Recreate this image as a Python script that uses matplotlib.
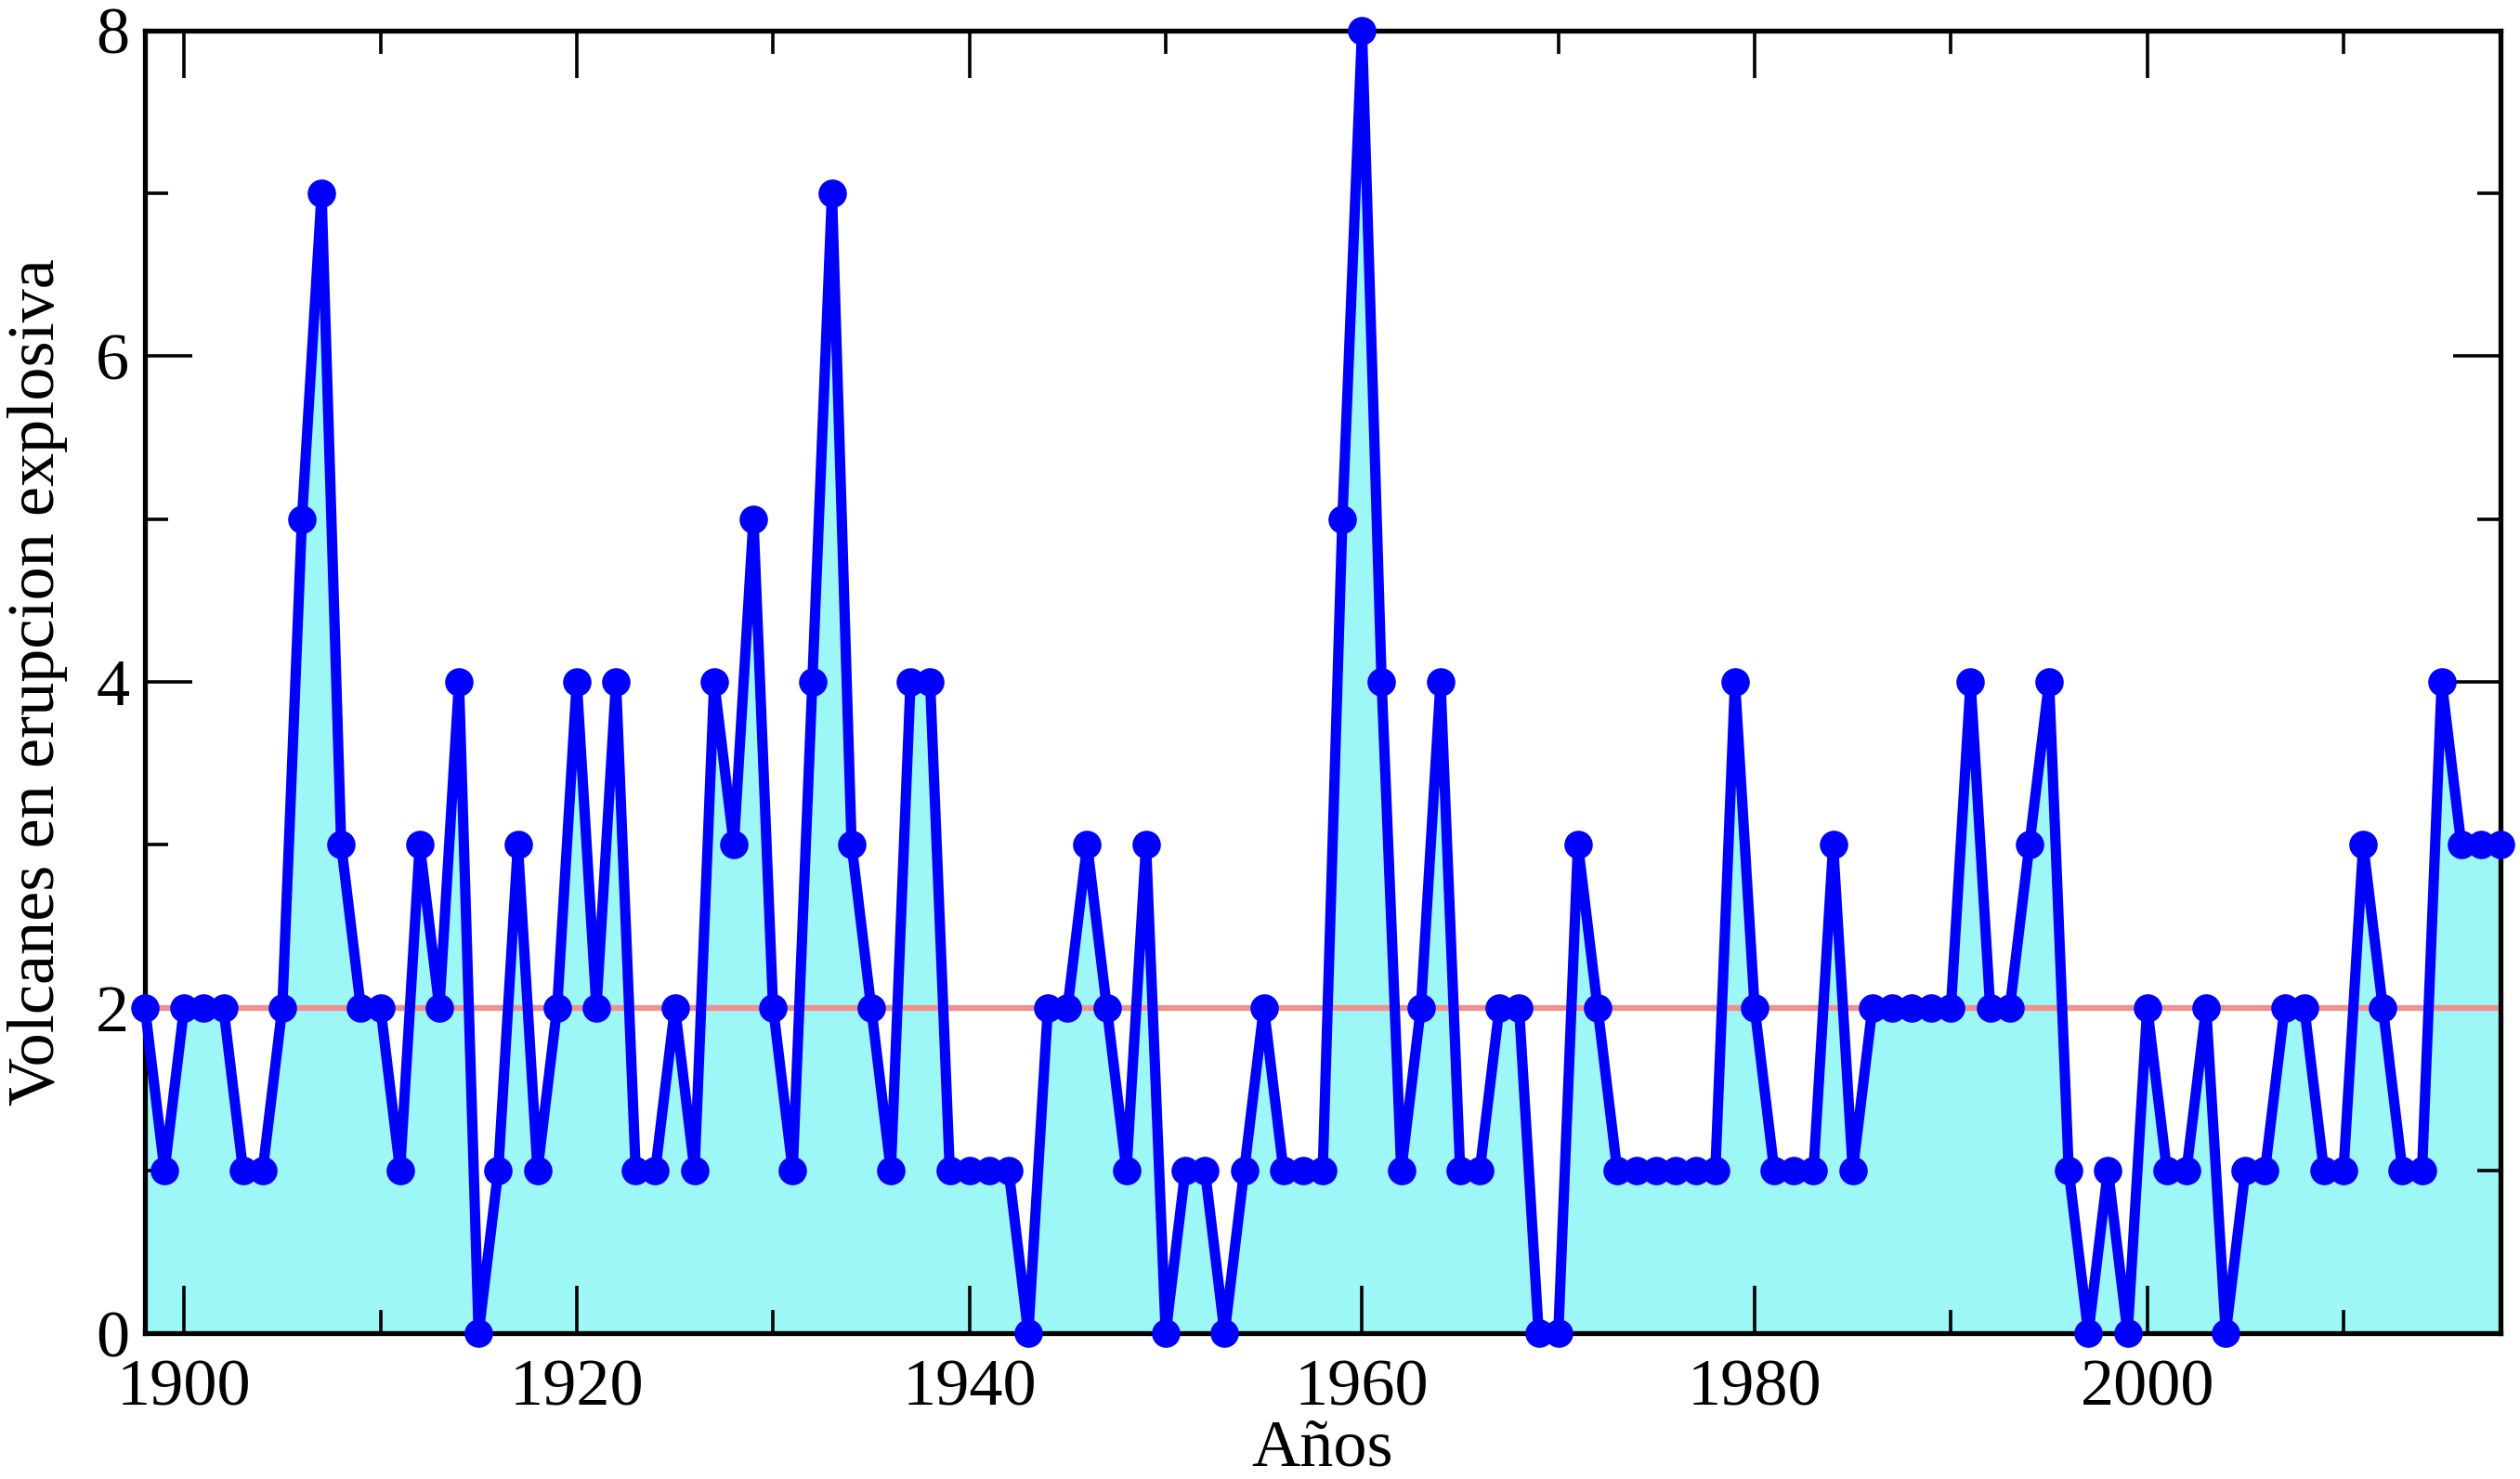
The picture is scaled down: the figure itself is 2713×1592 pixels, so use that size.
import matplotlib
matplotlib.use('Agg')
import matplotlib.pyplot as plt
from matplotlib.ticker import MultipleLocator

# yearly counts of explosive eruptions, 1898-2018
years = list(range(1898, 2019))
volcanes = [2, 1, 2, 2, 2, 1, 1, 2, 5, 7,   # 1898-1907
            3, 2, 2, 1, 3, 2, 4, 0, 1, 3,   # 1908-1917
            1, 2, 4, 2, 4, 1, 1, 2, 1, 4,   # 1918-1927
            3, 5, 2, 1, 4, 7, 3, 2, 1, 4,   # 1928-1937
            4, 1, 1, 1, 1, 0, 2, 2, 3, 2,   # 1938-1947
            1, 3, 0, 1, 1, 0, 1, 2, 1, 1,   # 1948-1957
            1, 5, 8, 4, 1, 2, 4, 1, 1, 2,   # 1958-1967
            2, 0, 0, 3, 2, 1, 1, 1, 1, 1,   # 1968-1977
            1, 4, 2, 1, 1, 1, 3, 1, 2, 2,   # 1978-1987
            2, 2, 2, 4, 2, 2, 3, 4, 1, 0,   # 1988-1997
            1, 0, 2, 1, 1, 2, 0, 1, 1, 2,   # 1998-2007
            2, 1, 1, 3, 2, 1, 1, 4, 3, 3,   # 2008-2017
            3]                              # 2018
media = 2

plt.rcParams['font.family'] = ['Liberation Serif', 'DejaVu Serif']

fig = plt.figure(figsize=(27.13, 15.92), dpi=100)
ax = fig.add_axes([0.0575, 0.0986, 0.9348, 0.8807])

ax.fill_between(years, volcanes, 0, color='#9ef7f7', linewidth=0, zorder=1)
ax.plot([years[0], years[-1]], [media, media], color='#f29090', linewidth=4.5, zorder=2)
ax.plot(years, volcanes, color='#0000ff', linewidth=8, marker='o', markersize=21,
        clip_on=False, zorder=5)

ax.set_xlim(1898, 2018)
ax.set_ylim(0, 8)
ax.xaxis.set_major_locator(MultipleLocator(20))
ax.xaxis.set_minor_locator(MultipleLocator(10))
ax.yaxis.set_major_locator(MultipleLocator(2))
ax.yaxis.set_minor_locator(MultipleLocator(1))
ax.tick_params(which='both', direction='in', top=True, right=True, width=2.6, labelsize=52)
ax.tick_params(axis='x', which='major', length=37, pad=20)
ax.tick_params(axis='y', which='major', length=37, pad=12)
ax.tick_params(which='minor', length=18)
for s in ax.spines.values():
    s.set_linewidth(3.8)

ax.set_xlabel('Años', fontsize=52, labelpad=0)
ax.set_ylabel('Volcanes en erupcion explosiva', fontsize=52, labelpad=22)

fig.savefig('out.png', dpi=100)
